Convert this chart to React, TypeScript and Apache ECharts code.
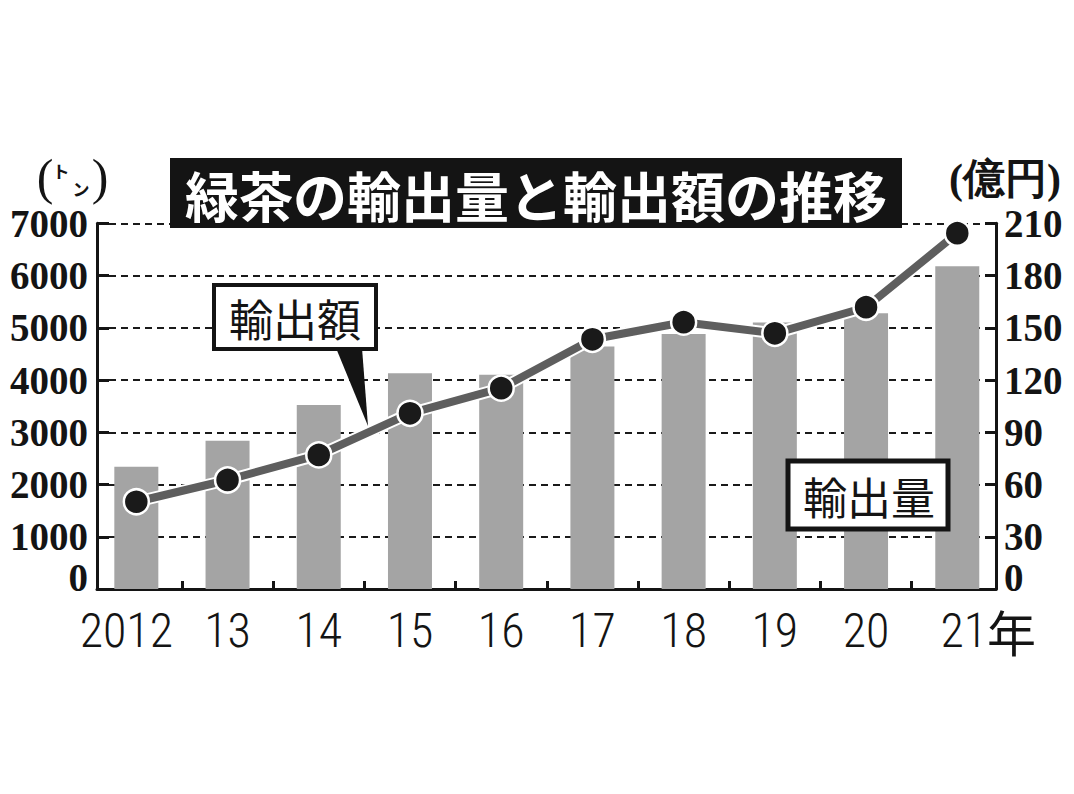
import React, { useEffect, useRef } from 'react';
import * as echarts from 'echarts';

// ---- data ----
const years = ['2012', '13', '14', '15', '16', '17', '18', '19', '20', '21年'];
const exportVolumeTons = [2340, 2840, 3520, 4130, 4100, 4640, 4880, 5100, 5280, 6180];
const exportValueOkuYen = [50.1, 62.6, 77.0, 100.9, 115.3, 143.4, 153.2, 146.8, 161.8, 204.3];
const volumeTicks = [0, 1000, 2000, 3000, 4000, 5000, 6000, 7000];
const valueTicks = [0, 30, 60, 90, 120, 150, 180, 210];

const titleText = '緑茶の輸出量と輸出額の推移';
const valueLabel = '輸出額';
const volumeLabel = '輸出量';

const INK = '#141414';
const SERIF = 'Liberation Serif';
const NARROW = 'Roboto Condensed';
const CJK = 'Noto Sans CJK JP';

const pad = (arr: (number | string)[], fill: any) => [fill, ...arr, fill];

export default function App() {
  const ref = useRef<HTMLDivElement>(null);

  useEffect(() => {
    document.body.style.margin = '0';
    if (!ref.current) return;
    const chart = echarts.init(ref.current, null, { renderer: 'svg' });

    const top = 223.3;
    const bottom = 794 - 589;
    const tickStep = (t: number[]) => t[1] - t[0];

    const numLabel = {
      fontFamily: SERIF,
      fontWeight: 'bold' as const,
      fontSize: 39,
      color: INK,
    };
    const yearFont = {
      fontFamily: NARROW,
      fontWeight: 300,
      fontSize: 48,
      color: INK,
    };

    const yearFormatter = (v: string, i: number) => {
      if (!v) return '';
      if (i === 1) return '{first|' + v + '}';
      if (v.endsWith('年')) return '{gap|}{y|' + v.slice(0, -1) + '}{nen|年}';
      return '{y|' + v + '}';
    };

    const zeroRich = { ...numLabel, lineHeight: 2, padding: [0, 0, 24, 0] };

    const option: any = {
      animation: false,
      backgroundColor: '#fff',
      grid: [
        { left: 97, right: 1074 - 996, top, bottom, outerBoundsMode: 'none', containLabel: false },
        { left: -0.5, width: 1094.6, top, bottom, outerBoundsMode: 'none', containLabel: false },
      ],
      xAxis: [
        {
          gridIndex: 0,
          type: 'value',
          min: 0,
          max: 1,
          axisLine: { show: true, onZero: false, lineStyle: { color: INK, width: 3 } },
          axisTick: { show: false },
          axisLabel: { show: false },
          splitLine: { show: false },
        },
        {
          gridIndex: 1,
          type: 'category',
          data: pad(years, ''),
          boundaryGap: true,
          axisLine: { show: false },
          axisTick: {
            show: true,
            inside: true,
            length: 8,
            interval: (i: number) => i >= 2 && i <= years.length,
            lineStyle: { color: INK, width: 3 },
          },
          axisLabel: {
            interval: 0,
            margin: 17,
            ...yearFont,
            formatter: yearFormatter,
            rich: {
              y: { ...yearFont },
              first: { ...yearFont, padding: [0, 20, 0, 0] },
              nen: { ...yearFont, fontFamily: CJK, fontWeight: 'normal', fontSize: 49 },
              gap: { ...yearFont, width: 62 },
            },
          },
        },
      ],
      yAxis: [
        {
          gridIndex: 0,
          type: 'value',
          position: 'left',
          min: volumeTicks[0],
          max: volumeTicks[volumeTicks.length - 1],
          interval: tickStep(volumeTicks),
          axisLine: { show: true, lineStyle: { color: INK, width: 3 } },
          axisTick: { show: true, inside: true, length: 12, lineStyle: { color: INK, width: 3 } },
          axisLabel: {
            ...numLabel,
            margin: 9,
            showMinLabel: true,
            showMaxLabel: true,
            hideOverlap: false,
            formatter: (v: number) => (v === 0 ? '{z|0}' : String(v)),
            rich: { z: zeroRich },
          },
          splitLine: {
            show: true,
            lineStyle: { color: '#1a1a1a', width: 2, type: [7, 5] },
          },
        },
        {
          gridIndex: 0,
          type: 'value',
          position: 'right',
          min: valueTicks[0],
          max: valueTicks[valueTicks.length - 1],
          interval: tickStep(valueTicks),
          axisLine: { show: true, lineStyle: { color: INK, width: 3 } },
          axisTick: { show: true, inside: true, length: 11, lineStyle: { color: INK, width: 3 } },
          axisLabel: {
            ...numLabel,
            margin: 8,
            showMinLabel: true,
            showMaxLabel: true,
            hideOverlap: false,
            formatter: (v: number) => (v === 0 ? '{z|0}' : String(v)),
            rich: { z: zeroRich },
          },
          splitLine: { show: false },
        },
        {
          gridIndex: 1,
          type: 'value',
          show: false,
          min: volumeTicks[0],
          max: volumeTicks[volumeTicks.length - 1],
          splitLine: { show: false },
        },
        {
          gridIndex: 1,
          type: 'value',
          show: false,
          min: valueTicks[0],
          max: valueTicks[valueTicks.length - 1],
          splitLine: { show: false },
        },
      ],
      series: [
        {
          name: volumeLabel,
          type: 'bar',
          xAxisIndex: 1,
          yAxisIndex: 2,
          data: pad(exportVolumeTons, null),
          barWidth: 44,
          itemStyle: { color: '#a4a4a4' },
          z: 2,
        },
        {
          name: valueLabel + '-outline',
          type: 'line',
          xAxisIndex: 1,
          yAxisIndex: 3,
          data: pad(exportValueOkuYen, null),
          symbol: 'none',
          silent: true,
          lineStyle: { color: '#ffffff', width: 12 },
          z: 3,
        },
        {
          name: valueLabel,
          type: 'line',
          xAxisIndex: 1,
          yAxisIndex: 3,
          data: pad(exportValueOkuYen, null),
          symbol: 'circle',
          symbolSize: 25,
          itemStyle: { color: '#1a1a1a', borderColor: '#ffffff', borderWidth: 2.5 },
          lineStyle: { color: '#5e5e5e', width: 8 },
          z: 4,
        },
      ],
      graphic: [
        // title
        {
          type: 'rect',
          z: 100,
          shape: { x: 170, y: 158, width: 732, height: 70 },
          style: { fill: INK },
        },
        {
          type: 'text',
          z: 101,
          x: 536,
          y: 194,
          style: {
            text: titleText,
            fill: '#ffffff',
            fontFamily: CJK,
            fontWeight: 'bold',
            fontSize: 54,
            align: 'center',
            verticalAlign: 'middle',
          },
        },
        // unit (トン)
        { type: 'text', z: 100, x: 45, y: 177, style: { text: '(', fontFamily: SERIF, fontSize: 50, fill: INK, align: 'center', verticalAlign: 'middle' } },
        { type: 'text', z: 100, x: 61, y: 170, style: { text: 'ト', fontFamily: CJK, fontWeight: 'bold', fontSize: 17, fill: INK, align: 'center', verticalAlign: 'middle' } },
        { type: 'text', z: 100, x: 81, y: 188, style: { text: 'ン', fontFamily: CJK, fontWeight: 'bold', fontSize: 17, fill: INK, align: 'center', verticalAlign: 'middle' } },
        { type: 'text', z: 100, x: 100, y: 177, style: { text: ')', fontFamily: SERIF, fontSize: 50, fill: INK, align: 'center', verticalAlign: 'middle' } },
        // unit (億円)
        {
          type: 'text',
          z: 100,
          x: 1005,
          y: 179,
          style: {
            text: '(億円)',
            fontFamily: SERIF,
            fontWeight: 'bold',
            fontSize: 42,
            fill: INK,
            align: 'center',
            verticalAlign: 'middle',
          },
        },
        // callout 輸出額
        {
          type: 'polygon',
          z: 100,
          shape: { points: [[336, 348], [362, 348], [368, 426]] },
          style: { fill: INK },
        },
        {
          type: 'rect',
          z: 101,
          shape: { x: 214, y: 285, width: 162, height: 64 },
          style: { fill: '#ffffff', stroke: INK, lineWidth: 4 },
        },
        {
          type: 'text',
          z: 102,
          x: 295,
          y: 318,
          style: { text: valueLabel, fontFamily: CJK, fontSize: 44, fill: INK, align: 'center', verticalAlign: 'middle' },
        },
        // callout 輸出量
        {
          type: 'rect',
          z: 101,
          shape: { x: 788, y: 461, width: 160, height: 68 },
          style: { fill: '#ffffff', stroke: INK, lineWidth: 5 },
        },
        {
          type: 'text',
          z: 102,
          x: 869,
          y: 496,
          style: { text: volumeLabel, fontFamily: CJK, fontSize: 44, fill: INK, align: 'center', verticalAlign: 'middle' },
        },
      ],
    };

    chart.setOption(option);
    return () => chart.dispose();
  }, []);

  return <div ref={ref} style={{ width: 1074, height: 794 }} />;
}
